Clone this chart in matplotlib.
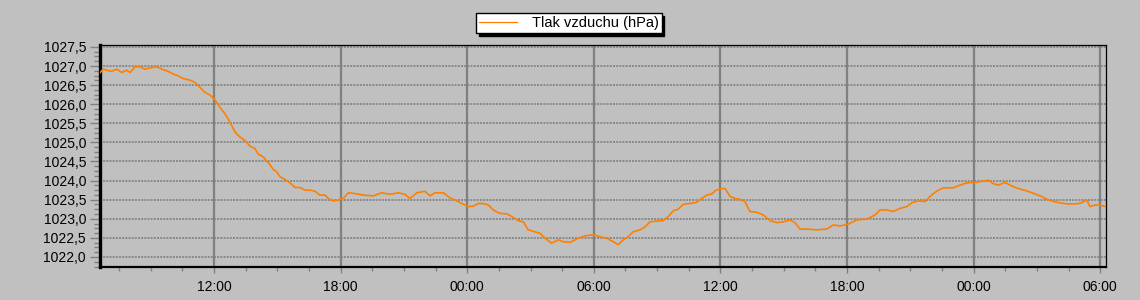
import matplotlib
matplotlib.use("Agg")
import matplotlib.pyplot as plt
from matplotlib.lines import Line2D
from matplotlib.ticker import MultipleLocator, FuncFormatter

# hours counted from 00:00 of the first day
hours = [
    6.60, 6.75, 6.98, 7.15, 7.39, 7.63, 7.86, 8.02, 8.26, 8.49, 8.73, 9.05,
    9.28, 9.52, 9.83, 10.07, 10.31, 10.55, 10.86, 11.10, 11.34, 11.57, 11.81,
    12.05, 12.28, 12.52, 12.76, 13.00, 13.23, 13.47, 13.71, 13.94, 14.10,
    14.34, 14.50, 14.65, 14.81, 14.97, 15.13, 15.36, 15.60, 15.84, 16.08,
    16.31, 16.55, 16.79, 17.02, 17.26, 17.42, 17.65, 17.89, 18.13, 18.36,
    18.68, 19.08, 19.55, 19.95, 20.34, 20.73, 21.05, 21.29, 21.61, 22.00,
    22.24, 22.47, 22.87, 23.18, 23.50, 23.81, 24.05, 24.29, 24.53, 24.76,
    25.00, 25.24, 25.55, 25.87, 26.11, 26.42, 26.66, 26.89, 27.21, 27.45,
    27.69, 28.00, 28.32, 28.55, 28.87, 29.26, 29.58, 29.98, 30.29, 30.61,
    30.92, 31.16, 31.40, 31.63, 31.87, 32.19, 32.43, 32.66, 32.98, 33.29,
    33.53, 33.77, 34.00, 34.24, 34.56, 34.88, 35.11, 35.35, 35.59, 35.74,
    35.98, 36.22, 36.45, 36.69, 36.93, 37.16, 37.40, 37.72, 38.03, 38.35,
    38.67, 38.98, 39.30, 39.53, 39.77, 40.09, 40.56, 41.04, 41.35, 41.67,
    42.06, 42.46, 42.93, 43.33, 43.56, 43.88, 44.19, 44.51, 44.83, 45.07,
    45.38, 45.69, 45.93, 46.09, 46.33, 46.56, 47.04, 47.35, 47.67, 47.98,
    48.30, 48.69, 48.93, 49.17, 49.49, 49.80, 50.12, 50.51, 50.91, 51.23,
    51.54, 51.94, 52.41, 52.88, 53.12, 53.36, 53.51, 53.75, 53.99, 54.23,
]
pressure = [
    1026.82, 1026.92, 1026.88, 1026.86, 1026.92, 1026.83, 1026.89, 1026.83,
    1026.98, 1026.98, 1026.92, 1026.96, 1026.98, 1026.92, 1026.86, 1026.79,
    1026.74, 1026.67, 1026.63, 1026.57, 1026.44, 1026.31, 1026.24, 1026.11,
    1025.92, 1025.75, 1025.53, 1025.27, 1025.14, 1025.05, 1024.90, 1024.84,
    1024.69, 1024.62, 1024.51, 1024.42, 1024.29, 1024.23, 1024.10, 1024.03,
    1023.94, 1023.82, 1023.82, 1023.75, 1023.75, 1023.72, 1023.62, 1023.62,
    1023.53, 1023.47, 1023.49, 1023.53, 1023.68, 1023.66, 1023.62, 1023.60,
    1023.68, 1023.64, 1023.68, 1023.64, 1023.53, 1023.68, 1023.72, 1023.60,
    1023.68, 1023.68, 1023.55, 1023.47, 1023.38, 1023.32, 1023.33, 1023.40,
    1023.40, 1023.36, 1023.23, 1023.14, 1023.13, 1023.06, 1022.95, 1022.92,
    1022.71, 1022.66, 1022.62, 1022.49, 1022.36, 1022.45, 1022.40, 1022.38,
    1022.49, 1022.55, 1022.58, 1022.53, 1022.49, 1022.40, 1022.32, 1022.45,
    1022.53, 1022.66, 1022.71, 1022.79, 1022.92, 1022.94, 1022.95, 1023.06,
    1023.21, 1023.25, 1023.38, 1023.40, 1023.43, 1023.53, 1023.62, 1023.65,
    1023.73, 1023.79, 1023.79, 1023.59, 1023.53, 1023.51, 1023.45, 1023.19,
    1023.17, 1023.10, 1022.95, 1022.90, 1022.92, 1022.97, 1022.90, 1022.73,
    1022.73, 1022.71, 1022.73, 1022.84, 1022.81, 1022.86, 1022.97, 1022.99,
    1023.10, 1023.23, 1023.23, 1023.19, 1023.27, 1023.32, 1023.42, 1023.47,
    1023.45, 1023.58, 1023.66, 1023.75, 1023.81, 1023.81, 1023.88, 1023.94,
    1023.95, 1023.97, 1024.01, 1023.92, 1023.88, 1023.95, 1023.86, 1023.79,
    1023.73, 1023.65, 1023.58, 1023.49, 1023.43, 1023.39, 1023.39, 1023.42,
    1023.49, 1023.32, 1023.36, 1023.36, 1023.32,
]
series_label = "Tlak vzduchu (hPa)"

bg = "#c0c0c0"
grid_c = "#808080"
line_c = "#ff8000"

plt.rcParams["font.family"] = ["Liberation Sans", "DejaVu Sans"]

fig = plt.figure(figsize=(11.4, 3.0), dpi=100, facecolor=bg)
ax = fig.add_axes([100 / 1140, 33.5 / 300, 1006 / 1140, 221.5 / 300])
ax.set_facecolor(bg)

ax.plot(hours, pressure, color=line_c, lw=1.2, zorder=3)

ax.set_xlim(6.60, 54.27)
ax.set_ylim(1021.75, 1027.55)

ax.xaxis.set_major_locator(MultipleLocator(6))
ax.xaxis.set_minor_locator(MultipleLocator(1.5))
ax.xaxis.set_major_formatter(FuncFormatter(lambda v, p: "%02d:00" % (int(round(v)) % 24)))
ax.yaxis.set_major_locator(MultipleLocator(0.5))
ax.yaxis.set_minor_locator(MultipleLocator(0.125))
ax.yaxis.set_major_formatter(FuncFormatter(lambda v, p: ("%.1f" % v).replace(".", ",")))

ax.tick_params(axis="y", which="major", length=7, width=1, color=grid_c, labelsize=10, pad=3)
ax.tick_params(axis="y", which="minor", length=4, width=1, color=grid_c)
ax.tick_params(axis="x", which="major", length=4, width=1, color=grid_c, labelsize=10, pad=6)
ax.tick_params(axis="x", which="minor", length=3, width=1, color=grid_c)

ax.grid(axis="y", which="major", color=grid_c, lw=1.2, linestyle=(0, (1.2, 0.7)), zorder=1)
ax.grid(axis="x", which="major", color=grid_c, lw=1.6, linestyle="-", zorder=1)
ax.set_axisbelow(True)

for side, w in (("left", 2.4), ("bottom", 1.6), ("top", 0.9), ("right", 0.9)):
    ax.spines[side].set_color("black")
    ax.spines[side].set_linewidth(w)

handle = Line2D([], [], color=line_c, lw=0.9)
leg = fig.legend([handle], [series_label], loc="center",
                 bbox_to_anchor=(569 / 1140, 1 - 23 / 300), fontsize=10.5,
                 frameon=True, fancybox=False, edgecolor="black", framealpha=1,
                 facecolor="white", handlelength=2.6, borderpad=0.2,
                 handletextpad=1.0, shadow={"color": "black", "alpha": 1})
leg.get_frame().set_linewidth(1.0)

fig.savefig("out.png", dpi=100, facecolor=bg)
